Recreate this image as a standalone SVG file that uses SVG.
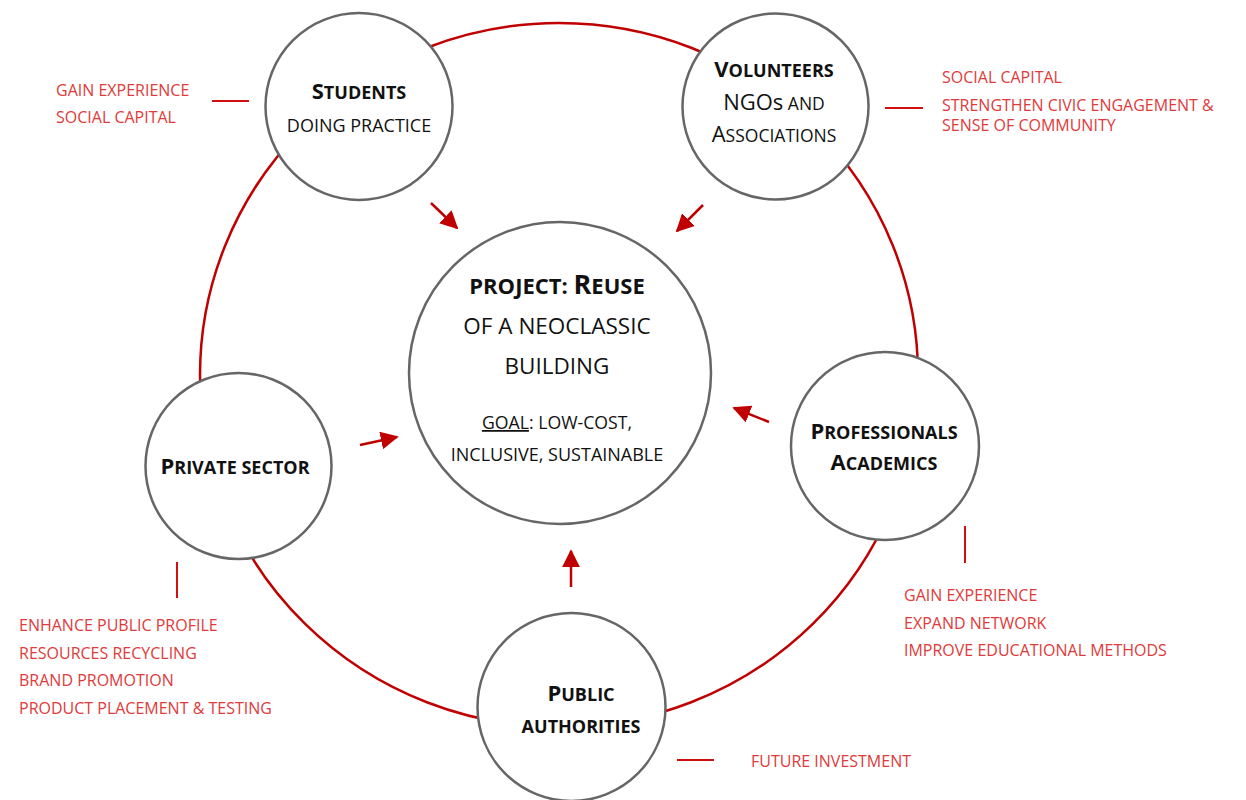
<svg xmlns="http://www.w3.org/2000/svg" width="1246" height="800" viewBox="0 0 1246 800">
<style>
.node{fill:#fff;stroke:#666;stroke-width:2.5}
.ring{fill:none;stroke:#c00000;stroke-width:2.5}
.tick{stroke:#d01010;stroke-width:2}
.arr{stroke:#c00000;stroke-width:2.5;fill:none;marker-end:url(#ah)}
text{font-family:"Open Sans","Noto Sans","DejaVu Sans",sans-serif;fill:#111}
.b{font-weight:bold;font-size:18px}
.r{font-size:17.5px}
.red{fill:#e03a3a;font-size:16px}
.L{font-size:22px}
</style>
<defs>
<marker id="ah" markerUnits="userSpaceOnUse" markerWidth="18" markerHeight="18" viewBox="0 0 10 10" refX="9" refY="5" orient="auto">
<path d="M0,0 L10,5 L0,10 z" fill="#c00000"/>
</marker>
</defs>
<rect width="1246" height="800" fill="#fff"/>
<g id="connectors">
<ellipse class="ring" cx="559" cy="375" rx="359" ry="352"/>
<line class="arr" x1="431" y1="203" x2="457" y2="228"/>
<line class="arr" x1="703" y1="205" x2="677" y2="231"/>
<line class="arr" x1="769" y1="422" x2="734" y2="408"/>
<line class="arr" x1="360" y1="445" x2="397" y2="437"/>
<line class="arr" x1="571" y1="587" x2="571" y2="551"/>
<line class="tick" x1="212" y1="101" x2="249" y2="101"/>
<line class="tick" x1="885" y1="108" x2="923" y2="108"/>
<line class="tick" x1="965" y1="526" x2="965" y2="563"/>
<line class="tick" x1="177" y1="562" x2="177" y2="598"/>
<line class="tick" x1="677" y1="760" x2="714" y2="760"/>
</g>
<g id="students">
<circle class="node" cx="359" cy="106.5" r="93.5"/>
<text class="b" x="359" y="99" text-anchor="middle"><tspan class="L">S</tspan>TUDENTS</text>
<text class="r" x="359" y="132" text-anchor="middle" style="font-size:18px">DOING PRACTICE</text>
</g>
<g id="volunteers">
<circle class="node" cx="775.5" cy="106.5" r="93"/>
<text class="b" x="774" y="77" text-anchor="middle"><tspan class="L">V</tspan>OLUNTEERS</text>
<text class="r" x="774" y="110" text-anchor="middle"><tspan class="L">NGOs</tspan> AND</text>
<text class="r" x="774" y="142" text-anchor="middle"><tspan class="L">A</tspan>SSOCIATIONS</text>
</g>
<g id="project">
<circle class="node" cx="560" cy="373" r="151"/>
<text x="557" y="294" text-anchor="middle" style="font-weight:bold;font-size:22px">PROJECT: <tspan style="font-size:27px">R</tspan>EUSE</text>
<text x="557" y="334" text-anchor="middle" style="font-size:22.5px">OF A NEOCLASSIC</text>
<text x="557" y="374" text-anchor="middle" style="font-size:22.5px">BUILDING</text>
<text x="557" y="429" text-anchor="middle" style="font-size:17.7px"><tspan text-decoration="underline">GOAL</tspan>: LOW-COST,</text>
<text x="557" y="461" text-anchor="middle" style="font-size:18px">INCLUSIVE, SUSTAINABLE</text>
</g>
<g id="professionals">
<circle class="node" cx="885" cy="446" r="94"/>
<text class="b" x="884" y="439" text-anchor="middle"><tspan class="L">P</tspan>ROFESSIONALS</text>
<text class="b" x="884" y="470" text-anchor="middle"><tspan class="L">A</tspan>CADEMICS</text>
</g>
<g id="private">
<circle class="node" cx="238.5" cy="466" r="93"/>
<text class="b" x="235" y="474" text-anchor="middle"><tspan class="L">P</tspan>RIVATE SECTOR</text>
</g>
<g id="public">
<circle class="node" cx="571.5" cy="707" r="94"/>
<text class="b" x="581" y="701" text-anchor="middle"><tspan class="L">P</tspan>UBLIC</text>
<text class="b" x="581" y="733" text-anchor="middle">AUTHORITIES</text>
</g>
<g id="labels">
<text class="red" x="56" y="96">GAIN EXPERIENCE</text>
<text class="red" x="56" y="123">SOCIAL CAPITAL</text>
<text class="red" x="942" y="83">SOCIAL CAPITAL</text>
<text class="red" x="942" y="111">STRENGTHEN CIVIC ENGAGEMENT &amp;</text>
<text class="red" x="942" y="131">SENSE OF COMMUNITY</text>
<text class="red" x="904" y="601">GAIN EXPERIENCE</text>
<text class="red" x="904" y="629">EXPAND NETWORK</text>
<text class="red" x="904" y="656">IMPROVE EDUCATIONAL METHODS</text>
<text class="red" x="19" y="631">ENHANCE PUBLIC PROFILE</text>
<text class="red" x="19" y="659">RESOURCES RECYCLING</text>
<text class="red" x="19" y="686">BRAND PROMOTION</text>
<text class="red" x="19" y="714">PRODUCT PLACEMENT &amp; TESTING</text>
<text class="red" x="751" y="767">FUTURE INVESTMENT</text>
</g>
</svg>
